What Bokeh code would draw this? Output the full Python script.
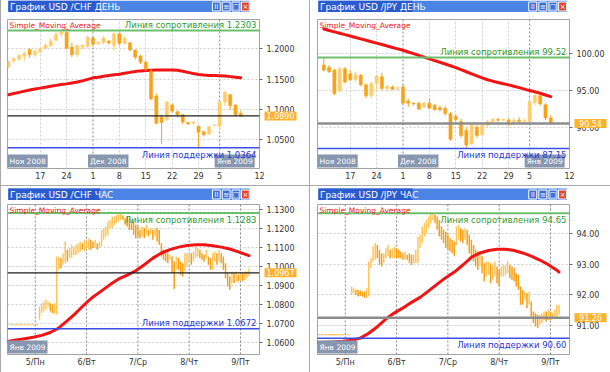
from bokeh.plotting import figure
from bokeh.layouts import column, row
from bokeh.models import Range1d, FixedTicker, PrintfTickFormatter, Label, Span, ColumnDataSource, Spacer
from bokeh.core.properties import value
from bokeh.embed import file_html
from bokeh.resources import INLINE

FONT = "DejaVu Sans"

# ---------------- DAILY USD/CHF ----------------
chf_day_x = list(range(45))
chf_day_open = [1.171, 1.180, 1.183, 1.188, 1.199, 1.190, 1.195, 1.201, 1.205, 1.214, 1.224, 1.227, 1.203, 1.190, 1.203,
                1.204, 1.218, 1.208, 1.210, 1.213, 1.205, 1.225, 1.209, 1.210, 1.198, 1.188, 1.178, 1.163, 1.122, 1.087,
                1.083, 1.107, 1.096, 1.091, 1.078, 1.077, 1.072, 1.063, 1.059, 1.073, 1.072, 1.112, 1.124, 1.107, 1.093]
chf_day_high = [1.181, 1.186, 1.192, 1.196, 1.201, 1.199, 1.203, 1.209, 1.217, 1.228, 1.2303, 1.230, 1.210, 1.208, 1.207,
                1.222, 1.219, 1.213, 1.221, 1.214, 1.227, 1.227, 1.221, 1.211, 1.199, 1.190, 1.180, 1.166, 1.126, 1.091,
                1.114, 1.109, 1.098, 1.092, 1.079, 1.080, 1.073, 1.064, 1.073, 1.075, 1.114, 1.131, 1.125, 1.108, 1.098]
chf_day_low = [1.168, 1.176, 1.180, 1.180, 1.185, 1.186, 1.193, 1.199, 1.203, 1.212, 1.220, 1.199, 1.186, 1.186, 1.199,
               1.202, 1.204, 1.207, 1.207, 1.207, 1.196, 1.205, 1.207, 1.196, 1.182, 1.175, 1.163, 1.115, 1.075, 1.042,
               1.080, 1.094, 1.086, 1.075, 1.074, 1.074, 1.0364, 1.055, 1.057, 1.072, 1.066, 1.105, 1.099, 1.088, 1.087]
chf_day_close = [1.178, 1.184, 1.189, 1.192, 1.190, 1.196, 1.200, 1.206, 1.213, 1.224, 1.228, 1.201, 1.190, 1.205, 1.206,
                 1.219, 1.208, 1.210, 1.218, 1.210, 1.225, 1.209, 1.217, 1.198, 1.186, 1.178, 1.166, 1.117, 1.077, 1.078,
                 1.112, 1.097, 1.091, 1.079, 1.076, 1.079, 1.062, 1.058, 1.071, 1.074, 1.112, 1.128, 1.106, 1.091, 1.089]
chf_day_sma = [1.124, 1.126, 1.128, 1.130, 1.132, 1.1335, 1.135, 1.1365, 1.138, 1.1395, 1.141, 1.142, 1.1435, 1.145, 1.147,
               1.1495, 1.152, 1.153, 1.1545, 1.156, 1.157, 1.158, 1.1595, 1.161, 1.1625, 1.1635, 1.164, 1.1645, 1.165,
               1.165, 1.165, 1.165, 1.1645, 1.163, 1.161, 1.159, 1.1575, 1.1565, 1.156, 1.156, 1.1555, 1.155, 1.154,
               1.153, 1.152]
chf_day_resistance = 1.2303
chf_day_support = 1.0364
chf_day_price = 1.0890
chf_day_yticks = [1.05, 1.10, 1.15, 1.20]

# ---------------- DAILY USD/JPY ----------------
jpy_day_x = list(range(1, 45))
jpy_day_open = [98.5, 98.2, 97.8, 95.0, 98.0, 97.3, 96.5, 97.1, 95.8, 94.3, 96.0, 96.9, 95.3, 95.5, 95.3, 95.5, 93.6,
                93.3, 93.3, 92.8, 93.3, 93.0, 92.7, 92.6, 91.9, 91.5, 90.8, 89.6, 87.8, 90.0, 89.0, 90.3, 90.8, 91.1,
                91.0, 91.0, 90.7, 91.0, 90.8, 90.8, 93.4, 94.3, 93.1, 91.3]
jpy_day_high = [99.52, 98.5, 98.0, 98.3, 98.2, 97.8, 97.6, 97.3, 96.0, 96.2, 97.2, 97.4, 95.8, 95.7, 95.6, 95.8, 93.9,
                93.4, 93.5, 93.5, 94.0, 93.2, 93.0, 92.9, 92.1, 91.8, 91.2, 90.0, 90.6, 90.4, 90.6, 91.0, 91.3, 91.3,
                91.2, 91.3, 91.4, 91.4, 91.2, 93.7, 94.8, 94.6, 93.3, 91.7]
jpy_day_low = [97.6, 97.4, 94.4, 94.8, 96.0, 96.3, 96.3, 95.6, 94.0, 94.0, 95.0, 95.0, 94.9, 95.1, 95.0, 93.2, 92.8,
               93.0, 92.4, 92.6, 92.5, 92.3, 92.2, 91.6, 88.2, 90.7, 88.6, 87.15, 87.6, 88.6, 88.9, 90.0, 90.6, 90.8,
               90.9, 90.2, 90.3, 90.5, 90.6, 90.6, 93.0, 93.0, 91.0, 90.4]
jpy_day_close = [97.8, 97.6, 94.6, 98.0, 96.2, 96.5, 97.2, 95.8, 94.3, 96.0, 97.0, 95.3, 95.6, 95.2, 95.4, 93.3, 93.3,
                 93.2, 92.5, 93.3, 92.6, 92.4, 92.4, 91.9, 88.4, 91.1, 88.9, 87.6, 90.3, 88.9, 90.3, 90.8, 91.1, 91.0,
                 91.1, 90.7, 91.0, 90.8, 90.9, 93.5, 94.4, 93.2, 91.3, 90.54]
jpy_day_sma = [103.40, 103.20, 103.01, 102.82, 102.63, 102.44, 102.24, 102.05, 101.86, 101.66, 101.47, 101.28, 101.08,
               100.89, 100.70, 100.50, 100.27, 100.04, 99.80, 99.57, 99.34, 99.10, 98.87, 98.64, 98.40, 98.14, 97.86,
               97.58, 97.30, 97.02, 96.74, 96.50, 96.30, 96.12, 95.95, 95.80, 95.60, 95.42, 95.22, 95.02, 94.85, 94.65,
               94.42, 94.20]
jpy_day_resistance = 99.52
jpy_day_support = 87.15
jpy_day_price = 90.54
jpy_day_yticks = [90.0, 95.0, 100.0]

# shared daily axis (trading-day index)
day_ticks = [6, 11, 16, 21, 26, 31, 36, 40, 47.55]
day_tick_labels = ["17", "24", "1", "8", "15", "22", "29", "5", "12"]
day_week_grid = [6, 11, 21, 26, 31, 36]
day_month_starts = [16, 40]
day_month_names = ["Ноя 2008", "Дек 2008", "Янв 2009"]

# ---------------- HOURLY USD/CHF ----------------
chf_hour_x = list(range(-13, 101))
chf_hour_high = [1.0695] * 15 + [
    1.0790, 1.0807, 1.0816, 1.0825, 1.0816, 1.0807, 1.0799, 1.0807, 1.1054, 1.1054, 1.1045, 1.1071, 1.1133, 1.1089,
    1.1098, 1.1115, 1.1106, 1.1115, 1.1124, 1.1133, 1.1124, 1.1142, 1.1133, 1.1150, 1.1142, 1.1133, 1.1142, 1.1124,
    1.1133, 1.1194, 1.1203, 1.1212, 1.1238, 1.1247, 1.1265, 1.1265, 1.1273, 1.1283, 1.1283, 1.1270, 1.1256, 1.1265,
    1.1256, 1.1247, 1.1238, 1.1221, 1.1212, 1.1194, 1.1212, 1.1203, 1.1221, 1.1194, 1.1203, 1.1194, 1.1203, 1.1203,
    1.1194, 1.1124, 1.1089, 1.1080, 1.1071, 1.1062, 1.1054, 1.1027, 1.1054, 1.1045, 1.1027, 1.1018, 1.1071, 1.1071,
    1.1062, 1.1071, 1.1080, 1.1106, 1.1098, 1.1089, 1.1071, 1.1062, 1.1089, 1.1054, 1.1045, 1.1071, 1.1080, 1.1071,
    1.1089, 1.1071, 1.1054, 1.1018, 1.0966, 1.0948, 1.0974, 1.0966, 1.0974, 1.0957, 1.0966, 1.0966, 1.0974, 1.0974,
    1.0992]
chf_hour_low = [1.0691] * 15 + [
    1.0719, 1.0755, 1.0763, 1.0772, 1.0790, 1.0763, 1.0755, 1.0750, 1.0746, 1.0983, 1.0992, 1.1010, 1.1018, 1.1027,
    1.1045, 1.1045, 1.1062, 1.1062, 1.1071, 1.1080, 1.1089, 1.1080, 1.1098, 1.1089, 1.1089, 1.1098, 1.1098, 1.1089,
    1.1098, 1.1106, 1.1142, 1.1159, 1.1168, 1.1203, 1.1203, 1.1221, 1.1230, 1.1238, 1.1247, 1.1247, 1.1221, 1.1212,
    1.1194, 1.1194, 1.1168, 1.1150, 1.1159, 1.1150, 1.1159, 1.1150, 1.1168, 1.1159, 1.1168, 1.1142, 1.1159, 1.1133,
    1.1115, 1.1054, 1.1036, 1.1027, 1.1018, 1.1036, 1.0966, 1.0882, 1.0983, 1.0983, 1.0957, 1.0948, 1.0974, 1.1001,
    1.1027, 1.1010, 1.1027, 1.1045, 1.1054, 1.1045, 1.1036, 1.1027, 1.1045, 1.1010, 1.0983, 1.0983, 1.1027, 1.1010,
    1.1027, 1.1018, 1.0983, 1.0939, 1.0895, 1.0878, 1.0913, 1.0913, 1.0922, 1.0922, 1.0930, 1.0922, 1.0930, 1.0939,
    1.0948]
chf_hour_sma_x = [-13, -9, -5, -1, 3, 7, 11, 15, 19, 23, 27, 31, 35, 39, 43, 47, 51, 55, 59, 63, 67, 71, 75, 79, 83,
                  87, 91, 95, 99, 100]
chf_hour_sma = [1.0605, 1.0612, 1.0619, 1.0627, 1.0637, 1.0652, 1.0676, 1.0715, 1.0755, 1.0800, 1.0840, 1.0872,
                1.0905, 1.0935, 1.0955, 1.0978, 1.1010, 1.1045, 1.1072, 1.1090, 1.1103, 1.1112, 1.1115, 1.1115,
                1.1110, 1.1103, 1.1093, 1.1078, 1.1062, 1.1058]
chf_hour_resistance = 1.1283
chf_hour_support = 1.0672
chf_hour_price = 1.0967
chf_hour_yticks = [1.06, 1.07, 1.08, 1.09, 1.10, 1.11, 1.12, 1.13]

# ---------------- HOURLY USD/JPY ----------------
jpy_hour_x = list(range(-13, 101))
jpy_hour_high = [90.73] * 16 + [
    92.27, 92.22, 92.17, 92.17, 92.14, 92.11, 92.11, 92.22, 93.08, 93.19, 93.57, 93.68, 93.62, 93.46, 93.35, 93.35,
    93.51, 93.62, 93.46, 93.51, 93.57, 93.51, 93.46, 93.41, 93.35, 93.41, 93.30, 93.35, 93.30, 93.30, 93.46, 93.89,
    93.95, 94.22, 94.33, 94.43, 94.54, 94.65, 94.65, 94.60, 94.54, 94.43, 94.22, 94.11, 94.05, 93.95, 93.84, 93.79,
    93.73, 94.22, 94.27, 94.16, 94.11, 94.16, 94.11, 93.95, 93.79, 93.62, 93.46, 93.41, 93.35, 93.25, 93.03, 93.08,
    93.08, 93.03, 92.97, 93.08, 92.92, 92.81, 92.92, 92.97, 92.97, 93.08, 92.97, 92.92, 92.87, 92.70, 92.65, 92.27,
    92.17, 92.11, 92.06, 92.11, 91.79, 91.46, 91.41, 91.36, 91.36, 91.41, 91.46, 91.46, 91.52, 91.46, 91.41, 91.52,
    91.68, 91.68]
jpy_hour_low = [90.69] * 16 + [
    92.00, 92.06, 92.00, 91.95, 91.97, 91.95, 91.90, 91.90, 91.95, 92.87, 93.08, 93.14, 93.19, 92.97, 92.92, 93.03,
    93.19, 93.25, 93.19, 93.19, 93.19, 93.19, 93.19, 93.19, 93.14, 93.14, 93.14, 93.03, 92.97, 93.03, 93.03, 93.03,
    93.52, 93.68, 93.89, 94.00, 94.16, 94.32, 94.43, 94.32, 94.11, 93.89, 93.79, 93.68, 93.52, 93.46, 93.41, 93.35,
    93.25, 93.62, 93.79, 93.73, 93.68, 93.79, 93.62, 93.35, 93.25, 93.08, 92.92, 92.81, 92.92, 92.70, 92.44, 92.60,
    92.65, 92.38, 92.49, 92.60, 92.38, 92.27, 92.60, 92.60, 92.65, 92.70, 92.54, 92.49, 92.44, 92.27, 92.17, 91.68,
    91.68, 91.84, 91.57, 91.68, 91.30, 91.09, 90.98, 90.92, 91.03, 91.09, 91.19, 91.14, 91.19, 91.19, 91.25, 91.30,
    91.25, 91.36]
jpy_hour_sma_x = chf_hour_sma_x
jpy_hour_sma = [90.46, 90.47, 90.48, 90.50, 90.53, 90.60, 90.76, 90.97, 91.22, 91.42, 91.58, 91.76, 91.92, 92.13,
                92.35, 92.56, 92.74, 92.97, 93.22, 93.36, 93.44, 93.48, 93.48, 93.44, 93.36, 93.26, 93.13, 92.98,
                92.80, 92.74]
jpy_hour_resistance = 94.65
jpy_hour_support = 90.60
jpy_hour_price = 91.26
jpy_hour_yticks = [91.0, 92.0, 93.0, 94.0]

hour_ticks = [0, 24, 48, 72, 96]
hour_tick_labels = ["5/Пн", "6/Вт", "7/Ср", "8/Чт", "9/Пт"]
hour_month_names = ["Янв 2009"]

titles = ["График USD /CHF  ДЕНЬ", "График USD /JPY  ДЕНЬ", "График USD /CHF  ЧАС", "График USD /JPY  ЧАС"]

# ---------------- styling ----------------
BULL = "#FFCC6A"
BEAR = "#F7A21B"
H_BULL = "#FFC45A"
H_BEAR = "#F59E14"
SMA_COLOR = "#F01414"
RES_LINE = "#6CBF6C"
RES_TEXT = "#2F9A2F"
SUP_LINE = "#3A4FE6"
SUP_TEXT = "#1F36D0"
TAG_BG = "#FFB12B"
MONTH_BG = "#8797B0"
GRID_LIGHT = "#CFCFCF"
GRID_DARK = "#858585"
SEP = "#A8A8A8"
FRAME_W = 252          # plot-frame width in pixels
TAG_W = 32             # price tag width in pixels


def title_bar(width, height, bar_top, bar_left, bar_right, text):
    t = figure(width=width, height=height, x_range=Range1d(0, width), y_range=Range1d(height, 0),
               toolbar_location=None, output_backend="svg", x_axis_location=None, y_axis_location=None,
               min_border=0)
    t.grid.visible = False
    t.outline_line_color = None
    t.background_fill_color = "white"
    t.border_fill_color = "white"
    t.quad(left=[bar_left], right=[bar_right], top=[bar_top], bottom=[bar_top + 12], fill_color="#4C84E6",
           line_color=None)
    t.quad(left=[bar_left], right=[bar_left + 112], top=[bar_top], bottom=[bar_top + 12], fill_color="#2A5BCF",
           line_color=None)
    t.text(x=[bar_left + 2], y=[bar_top + 6.5], text=[text], text_baseline="middle", text_font=value(FONT),
           text_font_size="9px", text_color="white")
    bl = [bar_right - d for d in (45.5, 33.5, 21.5, 10.0)]
    fills = ["#3A6FDA", "#3A6FDA", "#3A6FDA", "#E2442F"]
    t.quad(left=bl, right=[b + 9.5 for b in bl], top=[bar_top + 1.5] * 4, bottom=[bar_top + 10.5] * 4,
           fill_color=fills, line_color="white", line_width=1)
    t.text(x=[b + 4.75 for b in bl], y=[bar_top + 6.3] * 4, text=["II", "≡", "□", "×"], text_align="center",
           text_baseline="middle", text_font=value(FONT), text_font_size="7px", text_color="white")
    return t


def chart(width, height, left, top, bottom, xr, yr, yticks, yfmt, xticks, xlabels, xalign, xgrid_ticks,
          dark_lines, month_boxes, res, res_above, sup, sup_above, price, price_dark, digits):
    p = figure(width=width, height=height, x_range=Range1d(*xr), y_range=Range1d(*yr), y_axis_location="right",
               toolbar_location=None, output_backend="svg", min_border_left=left,
               min_border_right=width - left - FRAME_W, min_border_top=top, min_border_bottom=bottom)
    p.background_fill_color = "white"
    p.border_fill_color = "white"
    p.outline_line_color = "#A3A3A3"

    p.yaxis.ticker = FixedTicker(ticks=yticks)
    p.yaxis.formatter = PrintfTickFormatter(format=yfmt)
    p.yaxis.axis_line_color = None
    p.yaxis.major_tick_in = 0
    p.yaxis.major_tick_out = 3
    p.yaxis.major_tick_line_color = "#666666"
    p.yaxis.minor_tick_line_color = None
    p.yaxis.major_label_text_font = FONT
    p.yaxis.major_label_text_font_size = "8px"
    p.yaxis.major_label_text_color = "#333333"
    p.yaxis.major_label_standoff = 4

    p.xaxis.ticker = FixedTicker(ticks=xticks)
    p.xaxis.major_label_overrides = {t: l for t, l in zip(xticks, xlabels)}
    p.xaxis.axis_line_color = None
    p.xaxis.major_tick_line_color = None
    p.xaxis.major_tick_in = 0
    p.xaxis.major_tick_out = 0
    p.xaxis.minor_tick_line_color = None
    p.xaxis.minor_tick_out = 0
    p.xaxis.major_label_text_font = FONT
    p.xaxis.major_label_text_font_size = "8px"
    p.xaxis.major_label_text_color = "#333333"
    p.xaxis.major_label_text_align = xalign
    p.xaxis.major_label_standoff = 3

    p.ygrid.ticker = FixedTicker(ticks=yticks)
    p.ygrid.grid_line_color = GRID_LIGHT
    p.ygrid.grid_line_dash = "2 2"
    p.xgrid.ticker = FixedTicker(ticks=xgrid_ticks)
    p.xgrid.grid_line_color = GRID_LIGHT
    p.xgrid.grid_line_dash = "2 2"
    for loc in dark_lines:
        p.add_layout(Span(location=loc, dimension="height", line_color=GRID_DARK, line_dash="2 2", line_width=1,
                          level="underlay"))

    # month boxes, sitting on the bottom edge of the frame
    for x, txt, off in month_boxes:
        p.add_layout(Label(x=x, y=yr[0], x_offset=off, y_offset=1, text=txt, text_baseline="bottom",
                           text_align="left", text_font=FONT, text_font_size="7.5px", text_color="white",
                           background_fill_color=MONTH_BG, padding=2))

    # levels
    p.add_layout(Span(location=res, dimension="width", line_color=RES_LINE, line_width=2))
    p.add_layout(Label(x=xr[1], y=res, x_offset=-3, y_offset=(1 if res_above else -2), text_align="right",
                       text_baseline=("bottom" if res_above else "top"),
                       text=("Линия сопротивления " + f"{res:.{digits}f}"), text_font=FONT,
                       text_font_size="8.5px", text_color=RES_TEXT))
    p.add_layout(Span(location=sup, dimension="width", line_color=SUP_LINE, line_width=1.5))
    p.add_layout(Label(x=xr[1], y=sup, x_offset=-3, y_offset=(1 if sup_above else -2), text_align="right",
                       text_baseline=("bottom" if sup_above else "top"),
                       text=("Линия поддержки " + f"{sup:.{digits}f}"), text_font=FONT,
                       text_font_size="8.5px", text_color=SUP_TEXT))
    if price_dark:
        p.add_layout(Span(location=price, dimension="width", line_color="#1E1E1E", line_width=1.2))
    else:
        p.add_layout(Span(location=price, dimension="width", line_color="#8C8C8C", line_width=2.5))

    # price tag beside the axis: overlay-level glyphs are drawn outside the frame
    unit = (xr[1] - xr[0]) / FRAME_W
    tag_x = xr[1] + (5 + TAG_W / 2) * unit
    p.rect(x=[tag_x], y=[price], width=TAG_W, height=9, width_units="screen", height_units="screen",
           fill_color=TAG_BG, line_color=None, level="overlay")
    p.text(x=[tag_x], y=[price], text=[f"{price:.{digits}f}"], text_align="center", text_baseline="middle",
           text_font=value(FONT), text_font_size="8px", text_color="white", level="overlay")

    p.add_layout(Label(x=xr[0], y=yr[1], x_offset=2, y_offset=-1, text="Simple_Moving_Average",
                       text_baseline="top", text_font=FONT, text_font_size="7.5px", text_color="#EE2020"))
    return p


def add_candles(p, x, o, h, l, c):
    src = ColumnDataSource(dict(
        x=x, high=h, low=l,
        top=[max(a, b) for a, b in zip(o, c)],
        bottom=[min(a, b) for a, b in zip(o, c)],
        color=[BULL if b >= a else BEAR for a, b in zip(o, c)]))
    p.segment(x0="x", y0="low", x1="x", y1="high", source=src, line_color="color", line_width=1)
    p.vbar(x="x", width=0.6, top="top", bottom="bottom", source=src, fill_color="color", line_color="color",
           line_width=0.5)


def add_bars(p, x, hi, lo):
    mids = [(a + b) / 2 for a, b in zip(hi, lo)]
    colors = [H_BEAR] + [H_BULL if mids[i] > mids[i - 1] else H_BEAR for i in range(1, len(mids))]
    src = ColumnDataSource(dict(x=x, top=hi, bottom=lo, color=colors))
    p.vbar(x="x", width=0.7, top="top", bottom="bottom", source=src, fill_color="color", line_color=None)


def add_sma(p, x, y):
    p.line(x, y, line_color=SMA_COLOR, line_width=3, line_join="round", line_cap="round")


def vsep(h):
    return Spacer(width=1, height=h, styles={"background-color": SEP})


DAY_XR = (-0.2, 47.55)
HOUR_XR = (-13.0, 104.9)

# top-left
tl = chart(308, 173, 6, 7, 17, DAY_XR, (1.0020, 1.2485), chf_day_yticks, "%.4f", day_ticks, day_tick_labels,
           "center", day_week_grid, day_month_starts,
           [(DAY_XR[0], day_month_names[0], 0), (day_month_starts[0], day_month_names[1], -5),
            (day_month_starts[1], day_month_names[2], -5)],
           chf_day_resistance, True, chf_day_support, False, chf_day_price, True, 4)
add_sma(tl, chf_day_x, chf_day_sma)
add_candles(tl, chf_day_x, chf_day_open, chf_day_high, chf_day_low, chf_day_close)

# top-right
tr = chart(300, 173, 7, 7, 17, DAY_XR, (84.42, 104.69), jpy_day_yticks, "%.2f", day_ticks, day_tick_labels,
           "center", day_week_grid, day_month_starts,
           [(DAY_XR[0], day_month_names[0], 0), (day_month_starts[0], day_month_names[1], -5),
            (day_month_starts[1], day_month_names[2], -5)],
           jpy_day_resistance, True, jpy_day_support, False, jpy_day_price, False, 2)
add_candles(tr, jpy_day_x, jpy_day_open, jpy_day_high, jpy_day_low, jpy_day_close)
add_sma(tr, jpy_day_x, jpy_day_sma)

# bottom-left
bl = chart(308, 172, 6, 4, 18, HOUR_XR, (1.0536, 1.1328), chf_hour_yticks, "%.4f", hour_ticks, hour_tick_labels,
           "left", [], hour_ticks, [(HOUR_XR[0], hour_month_names[0], 0)],
           chf_hour_resistance, False, chf_hour_support, True, chf_hour_price, True, 4)
add_bars(bl, chf_hour_x, chf_hour_high, chf_hour_low)
add_sma(bl, chf_hour_sma_x, chf_hour_sma)

# bottom-right
br = chart(300, 172, 7, 4, 18, HOUR_XR, (90.07, 94.93), jpy_hour_yticks, "%.2f", hour_ticks, hour_tick_labels,
           "left", [], hour_ticks, [(HOUR_XR[0], hour_month_names[0], 0)],
           jpy_hour_resistance, False, jpy_hour_support, False, jpy_hour_price, False, 2)
add_bars(br, jpy_hour_x, jpy_hour_high, jpy_hour_low)
add_sma(br, jpy_hour_sma_x, jpy_hour_sma)

layout = column(
    row(vsep(185), column(title_bar(308, 12, 0, 1, 296, titles[0]), tl), vsep(185),
        column(title_bar(300, 12, 0, 1, 297, titles[1]), tr)),
    Spacer(width=610, height=1, styles={"background-color": SEP}),
    row(vsep(186), column(title_bar(308, 14, 2, 1, 296, titles[2]), bl), vsep(186),
        column(title_bar(300, 14, 2, 1, 297, titles[3]), br)),
)

open("out.html", "w").write(file_html(layout, INLINE))
